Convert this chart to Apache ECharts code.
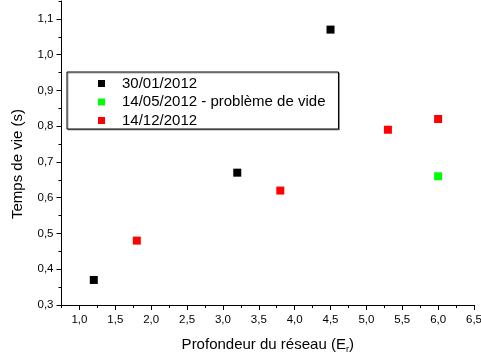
<!DOCTYPE html>
<html>
<head>
<meta charset="utf-8">
<script src="https://cdn.jsdelivr.net/npm/echarts@6/dist/echarts.min.js"></script>
<style>
  html, body { margin: 0; padding: 0; background: #fff; }
  #chart { width: 481px; height: 358px; }
</style>
</head>
<body>
<div id="chart"></div>
<script>
// Lifetime measurements vs lattice depth, three runs
const seriesNames = ['30/01/2012', '14/05/2012 - problème de vide', '14/12/2012'];
const seriesColors = ['#000000', '#00ff00', '#ff0000'];

const run1 = [[1.2, 0.37], [3.2, 0.67], [4.5, 1.07]];
const run2 = [[6.0, 0.66]];
const run3 = [[1.8, 0.48], [3.8, 0.62], [5.3, 0.79], [6.0, 0.82]];

// Tick positions
const xMajorTicks = [1.0, 1.5, 2.0, 2.5, 3.0, 3.5, 4.0, 4.5, 5.0, 5.5, 6.0, 6.5];
const xMinorTicks = [0.75, 1.25, 1.75, 2.25, 2.75, 3.25, 3.75, 4.25, 4.75, 5.25, 5.75, 6.25];
const yMajorTicks = [0.3, 0.4, 0.5, 0.6, 0.7, 0.8, 0.9, 1.0, 1.1];
const yMinorTicks = [0.35, 0.45, 0.55, 0.65, 0.75, 0.85, 0.95, 1.05, 1.15];

const xRange = [0.75, 6.5];
const yRange = [0.3, 1.15];

const fmt = v => v.toFixed(1).replace('.', ',');
const font = 'Liberation Sans, Arial, sans-serif';

const chart = echarts.init(document.getElementById('chart'), null, { renderer: 'canvas' });

const baseAxisLine = { show: true, lineStyle: { color: '#000', width: 1 } };

chart.setOption({
  animation: false,
  backgroundColor: '#fff',
  grid: { left: 61.5, right: 7, top: 1, bottom: 53, containLabel: false, outerBoundsMode: 'none' },
  legend: {
    orient: 'vertical',
    left: 67,
    top: 72,
    data: seriesNames,
    icon: 'rect',
    itemWidth: 7,
    itemHeight: 7,
    itemGap: 3.5,
    padding: [4, 13, 1, 31],
    borderColor: '#000',
    borderWidth: 1,
    backgroundColor: '#fff',
    shadowColor: 'rgba(0,0,0,0.35)',
    shadowOffsetX: 1,
    shadowOffsetY: 1,
    shadowBlur: 0,
    textStyle: { fontFamily: font, fontSize: 15, color: '#000', lineHeight: 15, padding: [0, 0, 0, 12] }
  },
  xAxis: [
    {
      type: 'value', min: xRange[0], max: xRange[1],
      name: 'Profondeur du réseau {s|(E}{sub|r}{s|)}',
      nameLocation: 'middle', nameGap: 31,
      nameTextStyle: {
        fontFamily: font, fontSize: 15, color: '#000',
        rich: {
          s: { fontFamily: font, fontSize: 15, color: '#000' },
          sub: { fontFamily: font, fontSize: 9, color: '#000', verticalAlign: 'bottom', padding: [9, 0, 0, 0] }
        }
      },
      axisLine: baseAxisLine,
      axisTick: { show: true, inside: false, length: 5, lineStyle: { color: '#000' }, customValues: xMajorTicks },
      axisLabel: { show: true, fontFamily: font, fontSize: 11.5, color: '#000', margin: 9, customValues: xMajorTicks, formatter: fmt },
      splitLine: { show: false }
    },
    {
      type: 'value', min: xRange[0], max: xRange[1], position: 'bottom',
      axisLine: { show: false },
      axisTick: { show: true, inside: false, length: 3, lineStyle: { color: '#000' }, customValues: xMinorTicks },
      axisLabel: { show: false },
      splitLine: { show: false }
    }
  ],
  yAxis: [
    {
      type: 'value', min: yRange[0], max: yRange[1],
      name: 'Temps de vie (s)',
      nameLocation: 'middle', nameGap: 36, nameRotate: 90,
      nameTextStyle: { fontFamily: font, fontSize: 15, color: '#000', padding: [0, 22, 0, 0] },
      axisLine: baseAxisLine,
      axisTick: { show: true, inside: false, length: 5, lineStyle: { color: '#000' }, customValues: yMajorTicks },
      axisLabel: { show: true, fontFamily: font, fontSize: 11.5, color: '#000', margin: 8, customValues: yMajorTicks, formatter: fmt },
      splitLine: { show: false }
    },
    {
      type: 'value', min: yRange[0], max: yRange[1], position: 'left',
      axisLine: { show: false },
      axisTick: { show: true, inside: false, length: 3, lineStyle: { color: '#000' }, customValues: yMinorTicks },
      axisLabel: { show: false },
      splitLine: { show: false }
    }
  ],
  series: [run1, run2, run3].map((d, i) => ({
    name: seriesNames[i],
    type: 'scatter',
    xAxisIndex: 0, yAxisIndex: 0,
    symbol: 'rect',
    symbolSize: 8,
    itemStyle: { color: seriesColors[i], opacity: 1 },
    data: d
  }))
});
</script>
</body>
</html>
